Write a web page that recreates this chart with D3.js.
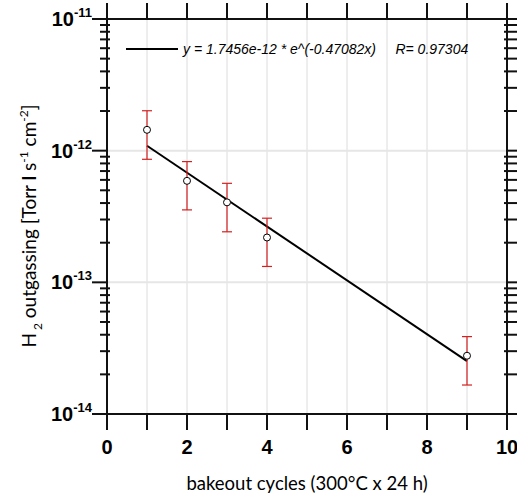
<!DOCTYPE html>
<html>
<head>
<meta charset="utf-8">
<script src="https://cdn.jsdelivr.net/npm/d3@7"></script>
<style>
  body { margin: 0; background: #fff; }
  .tickLabel { font-family: 'Liberation Sans', Arial, sans-serif; font-weight: bold; }
  .axisTitle { font-family: Lato, 'Open Sans', sans-serif; }
  .legendText { font-family: 'Liberation Sans', Arial, sans-serif; font-style: italic; }
</style>
</head>
<body>
<div id="chart"></div>
<script>
// measured outgassing per bakeout cycle
let cycles = [1, 2, 3, 4, 9];
let rate = [1.44e-12, 5.9e-13, 4.05e-13, 2.19e-13, 2.77e-14];
let rateHigh = [2.01e-12, 8.26e-13, 5.65e-13, 3.07e-13, 3.87e-14];
let rateLow = [8.6e-13, 3.55e-13, 2.42e-13, 1.32e-13, 1.66e-14];
// exponential fit from the legend
let fitA = 1.7456e-12;
let fitB = -0.47082;
let fitRange = [1, 9];
let xTicks = d3.range(0, 11, 1);
let xLabels = [0, 2, 4, 6, 8, 10];
let yDecades = [-11, -12, -13, -14];
let legendLabel = 'y = 1.7456e-12 * e^(-0.47082x)     R= 0.97304';

let margin = {top: 19, right: 10, bottom: 85, left: 107};
let width = 517 - margin.left - margin.right;
let height = 499 - margin.top - margin.bottom;

let svg = d3.select('#chart').append('svg')
    .attr('width', 517)
    .attr('height', 499)
    .append('g')
    .attr('transform', 'translate(' + margin.left + ',' + margin.top + ')');

let x = d3.scaleLinear().domain([0, 10]).range([0, width]);
let y = d3.scaleLog().domain([1e-14, 1e-11]).range([height, 0]);

let minors = [];
yDecades.slice(1).forEach(function(e) {
    for (let m = 2; m <= 9; m++) minors.push(m * Math.pow(10, e));
});

// grid
svg.append('g').selectAll('line')
    .data(d3.range(1, 10)).enter().append('line')
    .attr('x1', d => x(d)).attr('x2', d => x(d))
    .attr('y1', 0).attr('y2', height)
    .attr('stroke', '#dcdcdc').attr('stroke-width', 1);
svg.append('g').selectAll('line')
    .data([-12, -13]).enter().append('line')
    .attr('x1', 0).attr('x2', width)
    .attr('y1', d => y(Math.pow(10, d))).attr('y2', d => y(Math.pow(10, d)))
    .attr('stroke', '#e6e6e6').attr('stroke-width', 2);

// fit line
let fitLine = d3.line()
    .x(d => x(d))
    .y(d => y(fitA * Math.exp(fitB * d)));
svg.append('path').datum(fitRange)
    .attr('fill', 'none')
    .attr('stroke', '#000')
    .attr('stroke-width', 2)
    .attr('d', fitLine);

// error bars
let eb = svg.append('g').attr('stroke', '#d42020').attr('stroke-width', 1.2);
cycles.forEach(function(c, i) {
    eb.append('line')
        .attr('x1', x(c)).attr('x2', x(c))
        .attr('y1', y(rateHigh[i])).attr('y2', y(rateLow[i]));
    [rateHigh[i], rateLow[i]].forEach(function(v) {
        eb.append('line')
            .attr('x1', x(c) - 5).attr('x2', x(c) + 5)
            .attr('y1', y(v)).attr('y2', y(v));
    });
});

// points
svg.append('g').selectAll('circle')
    .data(cycles).enter().append('circle')
    .attr('cx', d => x(d))
    .attr('cy', (d, i) => y(rate[i]))
    .attr('r', 3.5)
    .attr('fill', '#fff')
    .attr('stroke', '#000')
    .attr('stroke-width', 1);

// frame and ticks
let axisCol = '#111';
let frame = svg.append('g').attr('stroke', axisCol).attr('stroke-width', 2);
frame.append('rect')
    .attr('x', 0).attr('y', 0).attr('width', width).attr('height', height)
    .attr('fill', 'none');
xTicks.forEach(function(t) {
    frame.append('line').attr('x1', x(t)).attr('x2', x(t)).attr('y1', height).attr('y2', height + 16);
    frame.append('line').attr('x1', x(t)).attr('x2', x(t)).attr('y1', 0).attr('y2', -16);
});
yDecades.forEach(function(e) {
    let yy = y(Math.pow(10, e));
    frame.append('line').attr('x1', -15).attr('x2', 0).attr('y1', yy).attr('y2', yy);
    frame.append('line').attr('x1', width).attr('x2', width + 15).attr('y1', yy).attr('y2', yy);
});
minors.forEach(function(v) {
    let yy = y(v);
    frame.append('line').attr('x1', -7).attr('x2', 3).attr('y1', yy).attr('y2', yy);
    frame.append('line').attr('x1', width - 3).attr('x2', width + 10).attr('y1', yy).attr('y2', yy);
});

// x tick labels
svg.append('g').selectAll('text')
    .data(xLabels).enter().append('text')
    .attr('class', 'tickLabel')
    .attr('x', d => x(d))
    .attr('y', height + 40)
    .attr('text-anchor', 'middle')
    .attr('font-size', 20)
    .text(d => d);

// y tick labels
yDecades.forEach(function(e) {
    let t = svg.append('text')
        .attr('class', 'tickLabel')
        .attr('x', -15)
        .attr('y', y(Math.pow(10, e)) + 7)
        .attr('text-anchor', 'end')
        .attr('font-size', 20);
    t.append('tspan').text('10');
    t.append('tspan').attr('dy', -9).attr('font-size', 13).text(String(e));
});

// legend
svg.append('line')
    .attr('x1', 19).attr('x2', 71)
    .attr('y1', 30).attr('y2', 30)
    .attr('stroke', '#000').attr('stroke-width', 2);
svg.append('text')
    .attr('class', 'legendText')
    .attr('x', 76)
    .attr('y', 35)
    .attr('font-size', 14)
    .attr('xml:space', 'preserve')
    .style('white-space', 'pre')
    .text(legendLabel);

// x axis title
svg.append('text')
    .attr('class', 'axisTitle')
    .attr('x', width / 2)
    .attr('y', height + 76)
    .attr('text-anchor', 'middle')
    .attr('font-size', 18.5)
    .text('bakeout cycles (300°C x 24 h)');

// y axis title
let yt = svg.append('text')
    .attr('class', 'axisTitle')
    .attr('transform', 'translate(' + (-71) + ',' + 207 + ') rotate(-90)')
    .attr('text-anchor', 'middle')
    .attr('xml:space', 'preserve')
    .style('white-space', 'pre')
    .attr('font-size', 19);
yt.append('tspan').text('H');
yt.append('tspan').attr('dy', 6).attr('font-size', 12).text(' 2');
yt.append('tspan').attr('dy', -6).text(' outgassing [Torr ');
yt.append('tspan').attr('font-weight', 'bold').text('l');
yt.append('tspan').text(' s');
yt.append('tspan').attr('dy', -8).attr('font-size', 12).text('-1');
yt.append('tspan').attr('dy', 8).text(' cm');
yt.append('tspan').attr('dy', -8).attr('font-size', 12).text('-2');
yt.append('tspan').attr('dy', 8).text(']');
</script>
</body>
</html>
